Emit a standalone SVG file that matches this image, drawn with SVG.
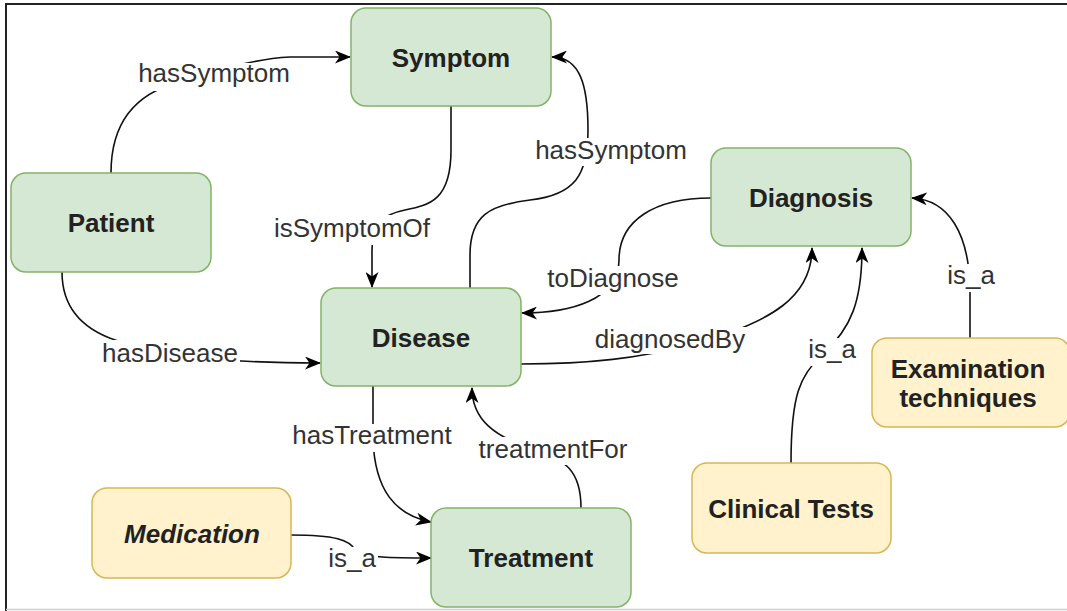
<svg xmlns="http://www.w3.org/2000/svg" width="1067" height="611" viewBox="0 0 1067 611">
<style>
.g{fill:#d5e8d4;stroke:#82b366;stroke-width:1.5}
.y{fill:#fff2cc;stroke:#d6b656;stroke-width:1.5}
.nt{font-family:"Liberation Sans",Arial,sans-serif;font-size:26px;font-weight:bold;fill:#222;text-anchor:middle}
.e{fill:none;stroke:#111;stroke-width:1.6}
.a{marker-end:url(#arr)}
.lb{fill:#fff}
.lt{font-family:"Liberation Sans",Arial,sans-serif;font-size:26px;fill:#333;text-anchor:middle}
</style>
<defs>
<marker id="arr" markerUnits="userSpaceOnUse" markerWidth="16" markerHeight="13" viewBox="0 0 16 13" refX="15" refY="6.5" orient="auto">
<path d="M0,0 L16,6.5 L0,13 L4.5,6.5 Z" fill="#000"/>
</marker>
</defs>
<rect width="1067" height="611" fill="#fff"/>
<path d="M6,611 V4 H1067" fill="none" stroke="#222" stroke-width="2"/>
<path d="M6,609.5 H1067" fill="none" stroke="#d0d0d0" stroke-width="1.5"/>

<g id="connectors">
<path class="e a" d="M111,173 C111,118 140,92 180,82 C215,72 250,59 290,57 L350,57"/>
<path class="e a" d="M451,106 L451,150 C451,200 430,205 405,210 C380,215 372,225 372,250 L372,287"/>
<path class="e a" d="M470,288 L470,255 C470,215 490,205 530,200 C575,195 588,175 588,130 C588,85 580,57 552,57"/>
<path class="e a" d="M711,198 C655,198 619,220 619,260 C619,300 570,313 522,313"/>
<path class="e a" d="M521,364 C590,364 640,358 690,345 C775,322 812,295 812,248"/>
<path class="e a" d="M791,463 C791,395 800,375 822,355 C852,328 862,300 862,248"/>
<path class="e a" d="M970,338 L970,285 C968,235 950,200 912,198"/>
<path class="e a" d="M62,272 C62,305 80,328 115,340 C150,352 200,363 320,363"/>
<path class="e a" d="M373,386 L373,440 C375,490 395,515 431,522"/>
<path class="e a" d="M581,508 C581,470 565,460 535,450 C495,437 472,420 472,388"/>
<path class="e a" d="M291,535 C335,535 350,540 355,550 C362,558 395,558 431,558"/>

<rect class="lb" x="136" y="63" width="156" height="28"/>
<text class="lt" x="214" y="82">hasSymptom</text>
<rect class="lb" x="270" y="215" width="164" height="30"/>
<text class="lt" x="352" y="237">isSymptomOf</text>
<rect class="lb" x="532" y="138" width="158" height="28"/>
<text class="lt" x="611" y="159">hasSymptom</text>
<rect class="lb" x="547" y="266" width="134" height="29"/>
<text class="lt" x="613" y="287">toDiagnose</text>
<rect class="lb" x="595" y="327" width="152" height="27"/>
<text class="lt" x="670" y="348">diagnosedBy</text>
<rect class="lb" x="806" y="338" width="52" height="28"/>
<text class="lt" x="832" y="358">is_a</text>
<rect class="lb" x="945" y="264" width="52" height="28"/>
<text class="lt" x="971" y="284">is_a</text>
<rect class="lb" x="101" y="340" width="139" height="28"/>
<text class="lt" x="170" y="362">hasDisease</text>
<rect class="lb" x="290" y="424" width="163" height="28"/>
<text class="lt" x="372" y="444">hasTreatment</text>
<rect class="lb" x="477" y="437" width="152" height="28"/>
<text class="lt" x="553" y="458">treatmentFor</text>
<rect class="lb" x="326" y="547" width="52" height="28"/>
<text class="lt" x="352" y="567">is_a</text>
</g>

<g id="symptom"><rect class="g" x="351" y="8" width="200" height="98" rx="15"/><text class="nt" x="451" y="67">Symptom</text></g>
<g id="patient"><rect class="g" x="11" y="173" width="200" height="99" rx="15"/><text class="nt" x="111" y="232">Patient</text></g>
<g id="disease"><rect class="g" x="321" y="288" width="200" height="98" rx="15"/><text class="nt" x="421" y="347">Disease</text></g>
<g id="diagnosis"><rect class="g" x="711" y="148" width="200" height="98" rx="15"/><text class="nt" x="811" y="207">Diagnosis</text></g>
<g id="treatment"><rect class="g" x="431" y="508" width="200" height="99" rx="15"/><text class="nt" x="531" y="567">Treatment</text></g>
<g id="medication"><rect class="y" x="92" y="488" width="199" height="90" rx="15"/><text class="nt" x="192" y="543" font-style="italic">Medication</text></g>
<g id="clinical-tests"><rect class="y" x="692" y="463" width="199" height="90" rx="15"/><text class="nt" x="791" y="518">Clinical Tests</text></g>
<g id="examination-techniques"><rect class="y" x="872" y="338" width="198" height="89" rx="15"/><text class="nt" x="968" y="378">Examination</text><text class="nt" x="968" y="407">techniques</text></g>
</svg>
